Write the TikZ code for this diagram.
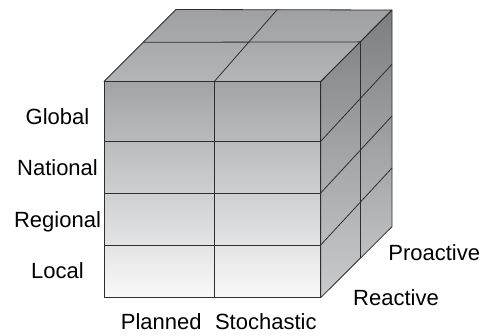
\documentclass[tikz,border=0pt]{standalone}
\usepackage{fontspec}
\setmainfont{Liberation Sans}
\definecolor{edge}{HTML}{2E2E2E}
\definecolor{frontTop}{HTML}{A1A3A6}
\definecolor{frontBot}{HTML}{F9F9F9}
\definecolor{topBack}{HTML}{9EA0A3}
\definecolor{topFront}{HTML}{B4B5B7}
\definecolor{sideTop}{HTML}{7C7E81}
\definecolor{sideBot}{HTML}{CACBCD}
\begin{document}
\begin{tikzpicture}[x=1pt,y=-1pt,line join=round,
  gridline/.style={draw=edge,line width=0.8pt},
  lab/.style={anchor=base,inner sep=0pt,font=\fontsize{22}{26}\selectfont}]
\useasboundingbox (0,0) rectangle (488,336);
% corners
\coordinate (A) at (104,81.5);
\coordinate (B) at (320.7,81.5);
\coordinate (C) at (320.7,297.7);
\coordinate (D) at (104,297.7);
\coordinate (E) at (176,9.5);
\coordinate (F) at (392,10);
\coordinate (G) at (392,226.7);
% faces
\shade[top color=topBack,bottom color=topFront] (A) -- (E) -- (F) -- (B) -- cycle;
\shade[top color=sideTop,bottom color=sideBot] (B) -- (F) -- (G) -- (C) -- cycle;
\shade[top color=frontTop,bottom color=frontBot] (A) rectangle (C);
% front grid
\coordinate (fm1) at (214.3,81.5);
\coordinate (fm2) at (214.3,297.7);
\draw[gridline] (fm1) -- (fm2);
\foreach \y/\n in {141.3/1,193/2,245/3}{
  \coordinate (fl\n) at (104,\y);
  \coordinate (fr\n) at (320.7,\y);
  \coordinate (bk\n) at (392,\y-77);
  \draw[gridline] (fl\n) -- (fr\n);
  \draw[gridline] (fr\n) -- (bk\n);
}
% top grid
\coordinate (tm1) at (143.2,42.3);
\coordinate (tm2) at (360.3,41.9);
\coordinate (tc) at (277.3,9.5);
\draw[gridline] (tm1) -- (tm2);
\draw[gridline] (fm1) -- (tc);
% side mid-depth vertical
\coordinate (sm) at (360.3,258.3);
\draw[gridline] (tm2) -- (sm);
% outlines
\draw[gridline] (A) -- (E) -- (F) -- (B) -- cycle;
\draw[gridline] (B) -- (F) -- (G) -- (C) -- cycle;
\draw[gridline] (A) rectangle (C);
% labels
\node[lab] (global) at (57.5,124.3) {Global};
\node[lab] (national) at (57.5,176) {National};
\node[lab] (regional) at (57.5,227.3) {Regional};
\node[lab] (local) at (57.5,279) {Local};
\node[lab] (planned) at (161.2,329.3) {Planned};
\node[lab] (stochastic) at (265.8,329.3) {Stochastic};
\node[lab] (proactive) at (434.2,260.7) {Proactive};
\node[lab] (reactive) at (396,306) {Reactive};
\end{tikzpicture}
\end{document}
